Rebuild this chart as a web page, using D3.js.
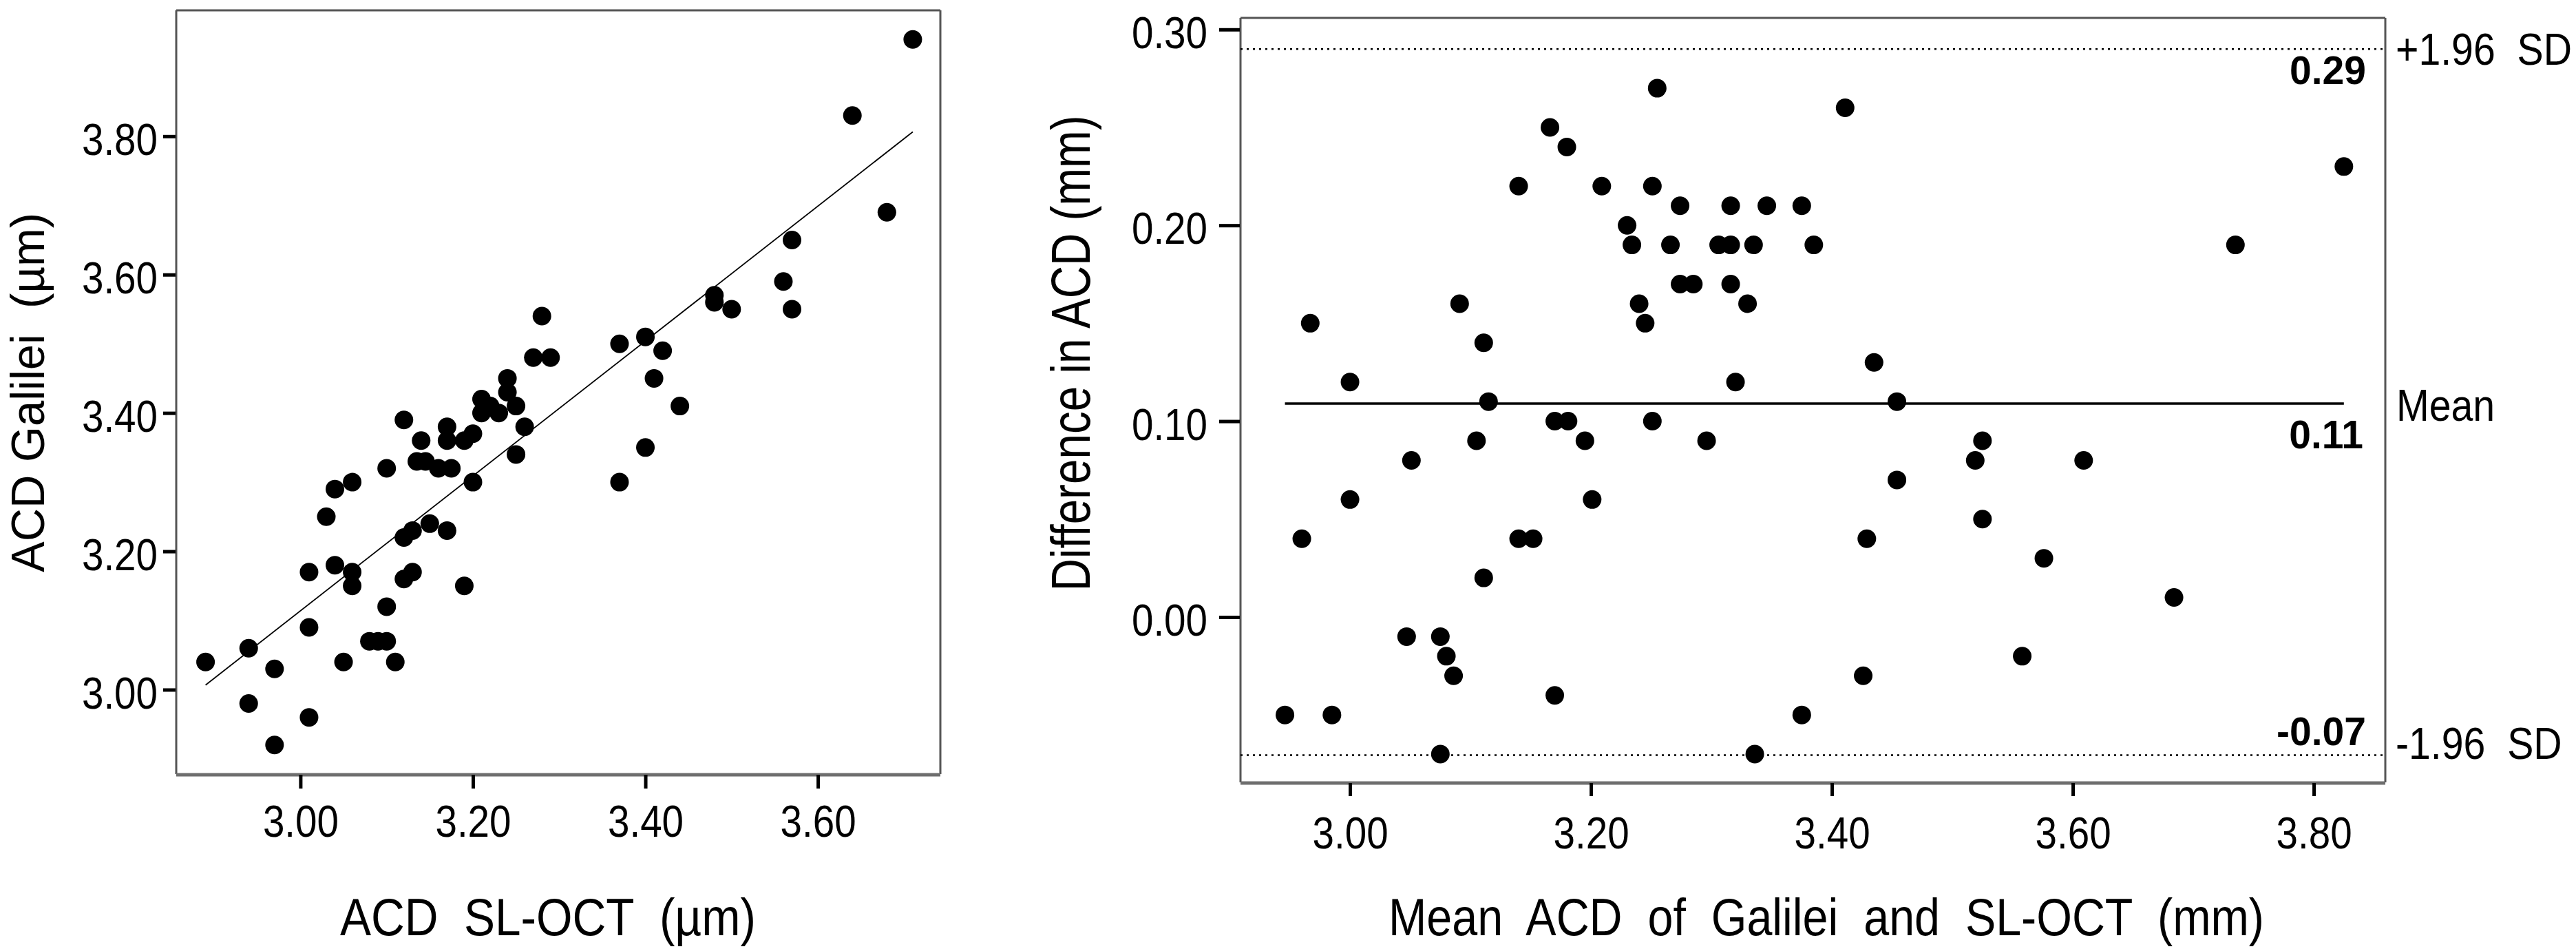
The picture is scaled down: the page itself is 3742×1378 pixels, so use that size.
<!DOCTYPE html>
<html><head><meta charset="utf-8">
<script src="https://cdn.jsdelivr.net/npm/d3@7"></script>
<style>
html,body{margin:0;padding:0;background:#fff;}
svg{display:block;}
text{font-family:"Liberation Sans",Arial,Helvetica,sans-serif;fill:#000;white-space:pre;}
</style></head><body>
<svg id="chart" width="3742" height="1378"></svg>
<script>
// ---------- Left panel: ACD SL-OCT vs ACD Galilei ----------
const leftX = [2.89,2.94,2.94,2.97,2.97,3.01,3.01,3.01,3.03,3.04,3.04,3.05,3.06,3.06,3.06,3.10,3.10,3.08,3.09,3.10,3.11,3.12,3.12,3.12,3.13,3.13,3.14,3.135,3.145,3.15,3.16,3.175,3.17,3.17,3.17,3.19,3.19,3.20,3.20,3.21,3.21,3.22,3.23,3.24,3.24,3.25,3.25,3.26,3.27,3.28,3.29,3.37,3.37,3.40,3.40,3.41,3.42,3.44,3.48,3.48,3.50,3.56,3.57,3.57,3.64,3.68,3.71];
const leftY = [3.04,3.06,2.98,3.03,2.92,3.17,3.09,2.96,3.25,3.29,3.18,3.04,3.30,3.17,3.15,3.32,3.12,3.07,3.07,3.07,3.04,3.39,3.22,3.16,3.17,3.23,3.36,3.33,3.33,3.24,3.32,3.32,3.38,3.36,3.23,3.36,3.15,3.37,3.30,3.42,3.40,3.41,3.40,3.45,3.43,3.41,3.34,3.38,3.48,3.54,3.48,3.50,3.30,3.51,3.35,3.45,3.49,3.41,3.57,3.56,3.55,3.59,3.65,3.55,3.83,3.69,3.94];
const leftXTicks = [3.00,3.20,3.40,3.60];
const leftYTicks = [3.00,3.20,3.40,3.60,3.80];
const regIntercept = 0.189, regSlope = 0.975;
const leftXTitle = "ACD  SL-OCT  (\u00b5m)";
const leftYTitle = "ACD Galilei  (\u00b5m)";

// ---------- Right panel: Bland-Altman ----------
const baMean = [2.946,2.960,2.967,2.985,3.000,3.000,3.047,3.051,3.075,3.075,3.080,3.086,3.091,3.105,3.111,3.111,3.115,3.140,3.140,3.152,3.166,3.170,3.170,3.180,3.181,3.195,3.201,3.209,3.230,3.234,3.240,3.245,3.251,3.251,3.255,3.266,3.274,3.274,3.285,3.296,3.306,3.316,3.316,3.316,3.320,3.330,3.335,3.336,3.346,3.375,3.375,3.385,3.411,3.426,3.429,3.435,3.454,3.454,3.519,3.525,3.525,3.558,3.576,3.609,3.684,3.735,3.825];
const baDiff = [-0.05,0.04,0.15,-0.05,0.12,0.06,-0.01,0.08,-0.01,-0.07,-0.02,-0.03,0.16,0.09,0.14,0.02,0.11,0.22,0.04,0.04,0.25,0.10,-0.04,0.24,0.10,0.09,0.06,0.22,0.20,0.19,0.16,0.15,0.22,0.10,0.27,0.19,0.21,0.17,0.17,0.09,0.19,0.21,0.19,0.17,0.12,0.16,0.19,-0.07,0.21,0.21,-0.05,0.19,0.26,-0.03,0.04,0.13,0.11,0.07,0.08,0.09,0.05,-0.02,0.03,0.08,0.01,0.19,0.23];
const rightXTicks = [3.00,3.20,3.40,3.60,3.80];
const rightYTicks = [0.00,0.10,0.20,0.30];
const meanDiff = 0.109, upperLoA = 0.29, lowerLoA = -0.0705;
const meanText = "0.11", upperText = "0.29", lowerText = "-0.07";
const upperName = "+1.96  SD", meanName = "Mean", lowerName = "-1.96  SD";
const rightXTitle = "Mean  ACD  of  Galilei  and  SL-OCT  (mm)";
const rightYTitle = "Difference in ACD (mm)";

// ---------- drawing ----------
const svg = d3.select("#chart");
const FONT_TICK = 65, SQ = 0.87;

function frame(g, x0, x1, y0, y1) {
  g.append("line").attr("x1", x0).attr("x2", x1).attr("y1", y0).attr("y2", y0).attr("stroke", "#555").attr("stroke-width", 3);
  g.append("line").attr("x1", x0).attr("x2", x0).attr("y1", y0).attr("y2", y1).attr("stroke", "#555").attr("stroke-width", 3);
  g.append("line").attr("x1", x1).attr("x2", x1).attr("y1", y0).attr("y2", y1).attr("stroke", "#555").attr("stroke-width", 3);
  g.append("line").attr("x1", x0).attr("x2", x1).attr("y1", y1 + 1).attr("y2", y1 + 1).attr("stroke", "#6e6e6e").attr("stroke-width", 5);
}

function styleBottomAxis(ax) {
  ax.select(".domain").remove();
  ax.selectAll(".tick line").attr("stroke", "#000").attr("stroke-width", 5);
  ax.selectAll(".tick text").attr("font-size", FONT_TICK).attr("font-family", null)
    .attr("transform", `scale(${SQ},1)`);
}
function styleLeftAxis(ax, offset) {
  ax.select(".domain").remove();
  ax.selectAll(".tick line").attr("stroke", "#000").attr("stroke-width", 5);
  ax.selectAll(".tick text").attr("font-size", FONT_TICK).attr("font-family", null)
    .attr("x", -offset / SQ).attr("dy", "0.41em")
    .attr("transform", `scale(${SQ},1)`);
}
function narrowText(g, x, y, txt, fs, anchor, sx) {
  return g.append("text").attr("transform", `translate(${x},${y}) scale(${sx},1)`)
    .attr("text-anchor", anchor).attr("font-size", fs).text(txt);
}

// ===== Left panel =====
const L = {x0: 256, x1: 1366, y0: 15, y1: 1124};
const xL = d3.scaleLinear().domain([2.856, 3.742]).range([L.x0, L.x1]);
const yL = d3.scaleLinear().domain([2.878, 3.982]).range([L.y1, L.y0]);
const gL = svg.append("g");
frame(gL, L.x0, L.x1, L.y0, L.y1);

const axLB = gL.append("g").attr("transform", `translate(0,${L.y1 + 1})`)
  .call(d3.axisBottom(xL).tickValues(leftXTicks).tickFormat(d3.format(".2f")).tickSize(20).tickPadding(24));
styleBottomAxis(axLB);
const axLL = gL.append("g").attr("transform", `translate(${L.x0 - 1},0)`)
  .call(d3.axisLeft(yL).tickValues(leftYTicks).tickFormat(d3.format(".2f")).tickSize(18));
styleLeftAxis(axLL, 26);

const xExtL = d3.extent(leftX);
gL.append("line")
  .attr("x1", xL(xExtL[0])).attr("y1", yL(regIntercept + regSlope * xExtL[0]))
  .attr("x2", xL(xExtL[1])).attr("y2", yL(regIntercept + regSlope * xExtL[1]))
  .attr("stroke", "#000").attr("stroke-width", 1.8);

gL.selectAll("circle").data(leftX.map((v, i) => [v, leftY[i]])).join("circle")
  .attr("cx", d => xL(d[0])).attr("cy", d => yL(d[1])).attr("r", 13.5).attr("fill", "#000");

gL.append("text").attr("x", 494).attr("y", 1358).attr("font-size", 76)
  .attr("textLength", 604).attr("lengthAdjust", "spacingAndGlyphs").text(leftXTitle);
gL.append("text").attr("transform", "translate(64,570) rotate(-90)").attr("text-anchor", "middle")
  .attr("font-size", 68).attr("textLength", 522).attr("lengthAdjust", "spacingAndGlyphs").text(leftYTitle);

// ===== Right panel =====
const R = {x0: 1802, x1: 3465, y0: 26, y1: 1136};
const xR = d3.scaleLinear().domain([2.9091, 3.8594]).range([R.x0, R.x1]);
const yR = d3.scaleLinear().domain([-0.0844, 0.3059]).range([R.y1, R.y0]);
const gR = svg.append("g");
frame(gR, R.x0, R.x1, R.y0, R.y1);

const axRB = gR.append("g").attr("transform", `translate(0,${R.y1 + 1})`)
  .call(d3.axisBottom(xR).tickValues(rightXTicks).tickFormat(d3.format(".2f")).tickSize(19).tickPadding(30));
styleBottomAxis(axRB);
const axRL = gR.append("g").attr("transform", `translate(${R.x0 - 1},0)`)
  .call(d3.axisLeft(yR).tickValues(rightYTicks).tickFormat(d3.format(".2f")).tickSize(30));
styleLeftAxis(axRL, 47);

// limits of agreement (dotted) and mean (solid)
[upperLoA, lowerLoA].forEach(v => {
  gR.append("line").attr("x1", R.x0).attr("x2", R.x1).attr("y1", yR(v)).attr("y2", yR(v))
    .attr("stroke", "#000").attr("stroke-width", 2.6).attr("stroke-dasharray", "3,6");
});
const xExtR = d3.extent(baMean);
gR.append("line").attr("x1", xR(xExtR[0])).attr("x2", xR(xExtR[1]))
  .attr("y1", yR(meanDiff)).attr("y2", yR(meanDiff)).attr("stroke", "#000").attr("stroke-width", 3.5);

gR.selectAll("circle").data(baMean.map((v, i) => [v, baDiff[i]])).join("circle")
  .attr("cx", d => xR(d[0])).attr("cy", d => yR(d[1])).attr("r", 13.5).attr("fill", "#000");

// right-side labels
const fsN = 65;
narrowText(gR, 3480, yR(upperLoA) + 0.358 * fsN, upperName, fsN, "start", 0.88);
narrowText(gR, 3481, yR(meanDiff) + 2 + 0.358 * fsN, meanName, fsN, "start", 0.88);
narrowText(gR, 3480, 1102, lowerName, fsN, "start", 0.88);

const fsV = 57;
gR.append("text").attr("x", 3437).attr("y", 122).attr("text-anchor", "end").attr("font-size", fsV).attr("font-weight", "bold").attr("fill", "#111").text(upperText);
gR.append("text").attr("x", 3433).attr("y", 651).attr("text-anchor", "end").attr("font-size", fsV).attr("font-weight", "bold").attr("fill", "#111").text(meanText);
gR.append("text").attr("x", 3437).attr("y", 1082).attr("text-anchor", "end").attr("font-size", fsV).attr("font-weight", "bold").attr("fill", "#111").text(lowerText);

gR.append("text").attr("x", 2017).attr("y", 1358).attr("font-size", 76)
  .attr("textLength", 1272).attr("lengthAdjust", "spacingAndGlyphs").text(rightXTitle);
gR.append("text").attr("transform", "translate(1583,513) rotate(-90)").attr("text-anchor", "middle")
  .attr("font-size", 80).attr("textLength", 691).attr("lengthAdjust", "spacingAndGlyphs").text(rightYTitle);
</script>
</body></html>
